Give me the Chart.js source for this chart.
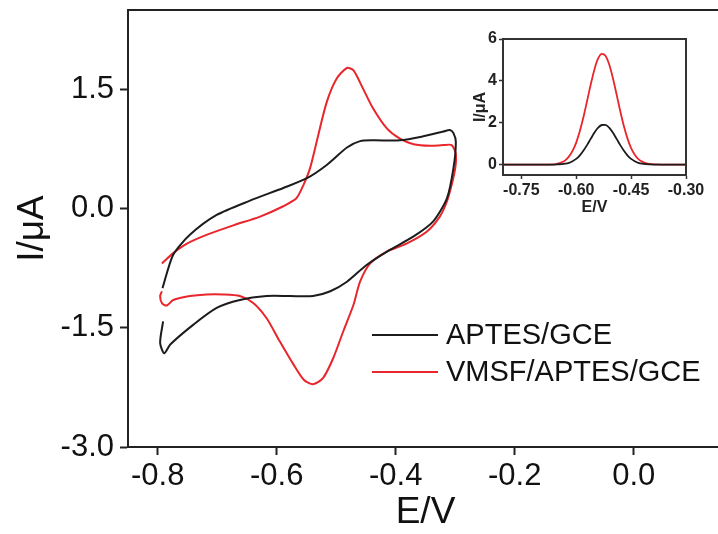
<!DOCTYPE html>
<html>
<head>
<meta charset="utf-8">
<script src="https://cdn.jsdelivr.net/npm/chart.js@4.4.1/dist/chart.umd.min.js"></script>
<style>
  html, body { margin: 0; padding: 0; background: #fff; overflow: hidden; }
  #wrap { position: relative; width: 718px; height: 534px; overflow: hidden; background: #fff; }
  #cv { position: absolute; left: 0; top: 0; }
  #dpv { position: absolute; left: 440px; top: 20px; }
</style>
</head>
<body>
<div id="wrap">
  <canvas id="cv" width="740" height="534" style="width:740px;height:534px"></canvas>
  <canvas id="dpv" width="270" height="210" style="width:270px;height:210px"></canvas>
</div>
<script>
// Cyclic voltammograms (E in V, I in µA), traced in scan order
const aptesE = [-0.791, -0.796, -0.789, -0.779, -0.740, -0.701, -0.662, -0.617, -0.578, -0.539,
  -0.510, -0.482, -0.449, -0.410, -0.370, -0.337, -0.314, -0.303, -0.299, -0.303,
  -0.309, -0.320, -0.354, -0.393, -0.438, -0.460, -0.482, -0.516, -0.550, -0.589,
  -0.645, -0.701, -0.746, -0.774, -0.792];
const aptesI = [-1.42, -1.69, -1.82, -1.71, -1.46, -1.25, -1.15, -1.10, -1.10, -1.10,
  -1.04, -0.92, -0.71, -0.52, -0.35, -0.16, 0.13, 0.51, 0.84, 0.95,
  0.99, 0.97, 0.91, 0.86, 0.86, 0.85, 0.77, 0.55, 0.38, 0.26,
  0.10, -0.08, -0.33, -0.58, -1.00];

const vmsfE = [-0.793, -0.774, -0.751, -0.718, -0.673, -0.628, -0.589, -0.567, -0.555, -0.544,
  -0.533, -0.516, -0.499, -0.482, -0.471, -0.455, -0.438, -0.415, -0.393, -0.370,
  -0.342, -0.320, -0.306, -0.299, -0.300, -0.306, -0.314, -0.326, -0.348, -0.382,
  -0.415, -0.443, -0.460, -0.471, -0.488, -0.505, -0.522, -0.539, -0.555, -0.572,
  -0.595, -0.617, -0.639, -0.662, -0.690, -0.718, -0.746, -0.774, -0.785, -0.793,
  -0.796, -0.793];
const vmsfI = [-0.69, -0.56, -0.44, -0.33, -0.21, -0.10, 0.03, 0.13, 0.30, 0.51,
  0.84, 1.34, 1.64, 1.77, 1.74, 1.51, 1.26, 1.01, 0.88, 0.81,
  0.79, 0.80, 0.80, 0.69, 0.51, 0.30, 0.09, -0.10, -0.29, -0.44,
  -0.54, -0.69, -0.92, -1.21, -1.54, -1.88, -2.13, -2.21, -2.15, -1.96,
  -1.67, -1.38, -1.19, -1.10, -1.08, -1.08, -1.10, -1.15, -1.22, -1.19,
  -1.10, -1.04];

const cvETicks = [-0.8, -0.6, -0.4, -0.2, 0.0];
const cvITicks = [-3.0, -1.5, 0.0, 1.5];

// Differential pulse voltammograms for the inset
const dpvE = [-0.80, -0.75, -0.70, -0.66, -0.65, -0.64, -0.63, -0.62, -0.61, -0.60,
  -0.59, -0.58, -0.57, -0.56, -0.55, -0.54, -0.53, -0.52, -0.51, -0.50,
  -0.49, -0.48, -0.47, -0.46, -0.45, -0.44, -0.43, -0.42, -0.41, -0.40,
  -0.38, -0.35, -0.30];
const dpvAptes = [0, 0, 0, 0, 0.01, 0.02, 0.04, 0.08, 0.16, 0.27,
  0.44, 0.67, 0.94, 1.24, 1.53, 1.76, 1.89, 1.90, 1.76, 1.53,
  1.24, 0.94, 0.67, 0.44, 0.27, 0.16, 0.08, 0.04, 0.02, 0.01,
  0, 0, 0];
const dpvVmsf = [0, 0, 0, 0.01, 0.05, 0.10, 0.20, 0.38, 0.65, 1.05,
  1.60, 2.28, 3.06, 3.85, 4.56, 5.07, 5.29, 5.20, 4.79, 4.15,
  3.38, 2.58, 1.85, 1.25, 0.79, 0.47, 0.26, 0.14, 0.07, 0.03,
  0.01, 0, 0];

const dpvETicks = [-0.75, -0.60, -0.45, -0.30];
const dpvITicks = [0, 2, 4, 6];

const seriesNames = ['APTES/GCE', 'VMSF/APTES/GCE'];
const BLACK = '#1c1c1c';
const RED = '#e8262b';
const FONT = "'Liberation Sans', Arial, sans-serif";

const toPoints = (xs, ys) => xs.map((x, i) => ({ x: x, y: ys[i] }));

// strokes the full rectangle around the plot area
const boxFrame = {
  id: 'boxFrame',
  afterDraw(chart, args, opts) {
    const { ctx, chartArea: a } = chart;
    ctx.save();
    ctx.strokeStyle = opts.color || '#222';
    ctx.lineWidth = opts.width || 2;
    ctx.strokeRect(a.left, a.top, a.right - a.left, a.bottom - a.top);
    ctx.restore();
  }
};

// line-sample legend placed inside the lower right of the plot
const cvLegend = {
  id: 'cvLegend',
  afterDraw(chart) {
    const { ctx } = chart;
    const rows = [335, 372];
    ctx.save();
    ctx.font = '29px ' + FONT;
    ctx.textBaseline = 'middle';
    ctx.fillStyle = '#111';
    chart.data.datasets.forEach((ds, i) => {
      ctx.strokeStyle = ds.borderColor;
      ctx.lineWidth = 2;
      ctx.beginPath();
      ctx.moveTo(372, rows[i]);
      ctx.lineTo(438, rows[i]);
      ctx.stroke();
      ctx.fillText(ds.label, 446, rows[i] + 1);
    });
    ctx.restore();
  }
};

function fixedTicks(values) {
  return scale => { scale.ticks = values.map(v => ({ value: v })); };
}

// fixed axis box size; drop the label overhang padding so the plot area stays put
function fixedSize(dim, px) {
  return scale => {
    scale[dim] = px;
    scale.paddingTop = 0;
    scale.paddingBottom = 0;
    scale.paddingLeft = 0;
    scale.paddingRight = 0;
  };
}

new Chart(document.getElementById('cv'), {
  type: 'scatter',
  data: {
    datasets: [
      {
        label: seriesNames[0],
        data: toPoints(aptesE, aptesI),
        showLine: true,
        borderColor: BLACK,
        borderWidth: 2,
        pointRadius: 0,
        tension: 0.25
      },
      {
        label: seriesNames[1],
        data: toPoints(vmsfE, vmsfI),
        showLine: true,
        borderColor: RED,
        borderWidth: 2,
        pointRadius: 0,
        tension: 0.25
      }
    ]
  },
  options: {
    responsive: false,
    animation: false,
    layout: { padding: { left: 0, top: 10, right: 17, bottom: 0 } },
    plugins: {
      legend: { display: false },
      tooltip: { enabled: false },
      boxFrame: { color: '#222', width: 2 }
    },
    scales: {
      x: {
        type: 'linear',
        min: -0.85,
        max: 0.15,
        afterBuildTicks: fixedTicks(cvETicks),
        afterFit: fixedSize('height', 87),
        grid: { drawOnChartArea: false, drawTicks: true, tickLength: 8, tickWidth: 2, tickColor: '#222' },
        border: { display: true, color: '#222', width: 2 },
        ticks: {
          autoSkip: false,
          maxRotation: 0,
          color: '#111',
          padding: 3,
          font: { family: FONT, size: 31 },
          callback: v => v.toFixed(1)
        },
        title: {
          display: true,
          text: 'E/V',
          color: '#111',
          font: { family: FONT, size: 37, lineHeight: 1 },
          padding: { top: 0, bottom: 3 }
        }
      },
      y: {
        type: 'linear',
        min: -3.0,
        max: 2.5,
        afterBuildTicks: fixedTicks(cvITicks),
        afterFit: fixedSize('width', 128),
        grid: { drawOnChartArea: false, drawTicks: true, tickLength: 8, tickWidth: 2, tickColor: '#222' },
        border: { display: true, color: '#222', width: 2 },
        ticks: {
          autoSkip: false,
          color: '#111',
          padding: 6,
          font: { family: FONT, size: 31 },
          callback: v => v.toFixed(1)
        },
        title: {
          display: true,
          text: 'I/μA',
          color: '#111',
          font: { family: FONT, size: 37, lineHeight: 1 },
          padding: { top: 14, bottom: 0 }
        }
      }
    }
  },
  plugins: [boxFrame, cvLegend]
});

// inset: DPV peaks
new Chart(document.getElementById('dpv'), {
  type: 'scatter',
  data: {
    datasets: [
      {
        label: seriesNames[0],
        data: toPoints(dpvE, dpvAptes),
        showLine: true,
        borderColor: BLACK,
        borderWidth: 1.8,
        pointRadius: 0,
        cubicInterpolationMode: 'monotone'
      },
      {
        label: seriesNames[1],
        data: toPoints(dpvE, dpvVmsf),
        showLine: true,
        borderColor: RED,
        borderWidth: 1.8,
        pointRadius: 0,
        cubicInterpolationMode: 'monotone'
      }
    ]
  },
  options: {
    responsive: false,
    animation: false,
    layout: { padding: { left: 0, top: 19, right: 24, bottom: 0 } },
    plugins: {
      legend: { display: false },
      tooltip: { enabled: false },
      boxFrame: { color: '#333', width: 2 }
    },
    scales: {
      x: {
        type: 'linear',
        min: -0.80,
        max: -0.30,
        afterBuildTicks: fixedTicks(dpvETicks),
        afterFit: fixedSize('height', 55),
        grid: { drawOnChartArea: false, drawTicks: true, tickLength: 4, tickWidth: 1.5, tickColor: '#333' },
        border: { display: true, color: '#333', width: 2 },
        ticks: {
          autoSkip: false,
          maxRotation: 0,
          color: '#222',
          padding: 2,
          font: { family: FONT, size: 16, weight: 'bold' },
          callback: v => v.toFixed(2)
        },
        title: {
          display: true,
          text: 'E/V',
          color: '#222',
          font: { family: FONT, size: 16, weight: 'bold', lineHeight: 1 },
          padding: { top: 0, bottom: 14 }
        }
      },
      y: {
        type: 'linear',
        min: -0.5,
        max: 6,
        afterBuildTicks: fixedTicks(dpvITicks),
        afterFit: fixedSize('width', 63),
        grid: { drawOnChartArea: false, drawTicks: true, tickLength: 4, tickWidth: 1.5, tickColor: '#333' },
        border: { display: true, color: '#333', width: 2 },
        ticks: {
          autoSkip: false,
          color: '#222',
          padding: 2,
          font: { family: FONT, size: 16, weight: 'bold' },
          callback: v => v.toFixed(0)
        },
        title: {
          display: true,
          text: 'I/μA',
          color: '#222',
          font: { family: FONT, size: 16, weight: 'bold', lineHeight: 1 },
          padding: { top: 33, bottom: 0 }
        }
      }
    }
  },
  plugins: [boxFrame]
});
</script>
</body>
</html>
